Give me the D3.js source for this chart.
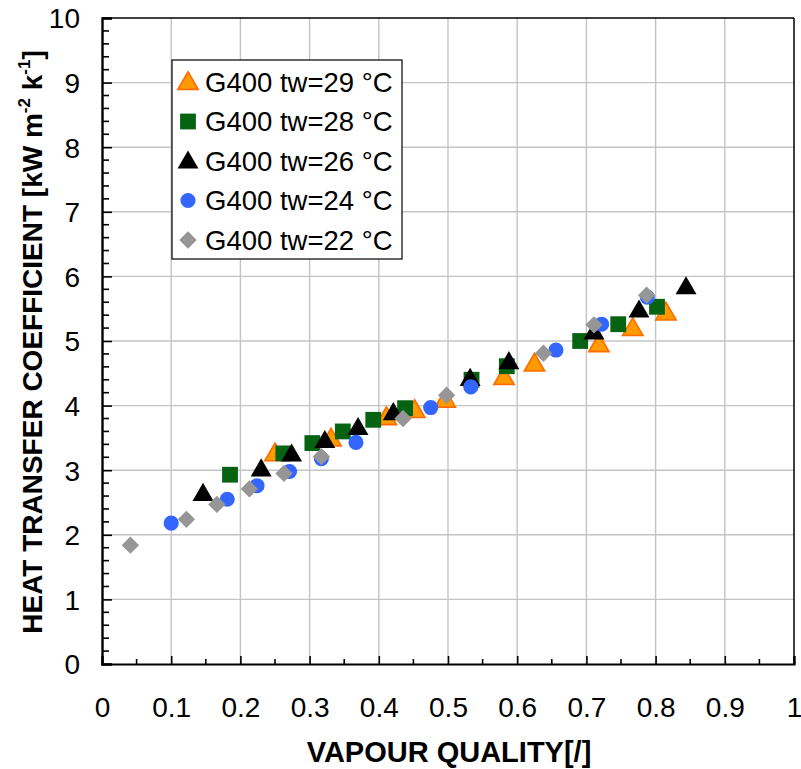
<!DOCTYPE html>
<html>
<head>
<meta charset="utf-8">
<script src="https://cdn.jsdelivr.net/npm/d3@7"></script>
<style>
  html, body { margin: 0; padding: 0; background: #fff; }
  svg { display: block; font-family: Arial, "Liberation Sans", Helvetica, sans-serif; }
</style>
</head>
<body>
<svg id="chart" width="801" height="769"></svg>
<script>
// Heat transfer coefficient vs vapour quality, G400, several wall temperatures
const seriesNames = ["G400 tw=29 °C", "G400 tw=28 °C", "G400 tw=26 °C", "G400 tw=24 °C", "G400 tw=22 °C"];

const tw29x = [0.250, 0.331, 0.411, 0.452, 0.496, 0.581, 0.625, 0.718, 0.767, 0.815];
const tw29y = [3.26, 3.49, 3.82, 3.93, 4.09, 4.44, 4.65, 4.95, 5.20, 5.44];

const tw28x = [0.185, 0.262, 0.304, 0.348, 0.392, 0.438, 0.534, 0.585, 0.691, 0.746, 0.802];
const tw28y = [2.93, 3.26, 3.42, 3.60, 3.78, 3.96, 4.40, 4.61, 5.00, 5.26, 5.53];

const tw26x = [0.146, 0.230, 0.274, 0.322, 0.370, 0.421, 0.532, 0.588, 0.711, 0.776, 0.844];
const tw26y = [2.64, 3.02, 3.25, 3.46, 3.66, 3.89, 4.42, 4.68, 5.14, 5.48, 5.84];

const tw24x = [0.100, 0.181, 0.224, 0.271, 0.317, 0.367, 0.475, 0.533, 0.656, 0.722, 0.788];
const tw24y = [2.18, 2.55, 2.76, 2.98, 3.18, 3.43, 3.97, 4.29, 4.86, 5.26, 5.68];

const tw22x = [0.041, 0.122, 0.166, 0.213, 0.263, 0.317, 0.435, 0.498, 0.638, 0.711, 0.787];
const tw22y = [1.84, 2.24, 2.47, 2.71, 2.95, 3.21, 3.80, 4.16, 4.81, 5.25, 5.71];

const xTicks = [0, 0.1, 0.2, 0.3, 0.4, 0.5, 0.6, 0.7, 0.8, 0.9, 1];
const xTickLabels = ["0", "0.1", "0.2", "0.3", "0.4", "0.5", "0.6", "0.7", "0.8", "0.9", "1"];
const yTicks = [0, 1, 2, 3, 4, 5, 6, 7, 8, 9, 10];

const xTitle = "VAPOUR QUALITY[/]";

// marker styling per series
const markerStyle = [
  { shape: "triangle", fill: "#ff9a00", stroke: "#ff6a00", sw: 1.6, size: 180 },
  { shape: "square",   fill: "#056312", stroke: "#056312", sw: 0,   size: 250 },
  { shape: "triangle", fill: "#000000", stroke: "#000000", sw: 0,   size: 190 },
  { shape: "circle",   fill: "#3366ff", stroke: "#3366ff", sw: 0,   size: 180 },
  { shape: "diamond",  fill: "#969696", stroke: "#969696", sw: 0,   size: 150 }
];

const series = [
  { x: tw29x, y: tw29y },
  { x: tw28x, y: tw28y },
  { x: tw26x, y: tw26y },
  { x: tw24x, y: tw24y },
  { x: tw22x, y: tw22y }
];

const svg = d3.select("#chart");
const plotL = 102, plotR = 794, plotT = 18, plotB = 664;

const x = d3.scaleLinear().domain([0, 1]).range([plotL, plotR]);
const y = d3.scaleLinear().domain([0, 10]).range([plotB, plotT]);

const symbolFor = {
  triangle: d3.symbolTriangle,
  square: d3.symbolSquare,
  circle: d3.symbolCircle,
  diamond: d3.symbolSquare
};
function markerPath(st) {
  return d3.symbol().type(symbolFor[st.shape]).size(st.size)();
}
function markerTransform(st, px, py) {
  if (st.shape === "diamond") return `translate(${px},${py}) rotate(45)`;
  if (st.shape === "triangle") return `translate(${px},${py + 1.5})`;
  return `translate(${px},${py})`;
}

// gridlines
const grid = svg.append("g").attr("stroke", "#c4c4c4").attr("stroke-width", 1.4);
grid.selectAll("line.vx").data(xTicks.slice(1, -1)).join("line")
  .attr("x1", d => x(d)).attr("x2", d => x(d))
  .attr("y1", plotT).attr("y2", plotB);
grid.selectAll("line.hy").data(yTicks.slice(1, -1)).join("line")
  .attr("x1", plotL).attr("x2", plotR)
  .attr("y1", d => y(d)).attr("y2", d => y(d));

// frame: top and right borders
svg.append("line").attr("x1", plotL).attr("x2", plotR).attr("y1", plotT).attr("y2", plotT)
  .attr("stroke", "#000").attr("stroke-width", 1.5);
svg.append("line").attr("x1", plotR).attr("x2", plotR).attr("y1", plotT).attr("y2", plotB)
  .attr("stroke", "#000").attr("stroke-width", 1.5);

// x axis with inward ticks
const xAxis = d3.axisBottom(x).tickValues(xTicks).tickSize(-8).tickPadding(0)
  .tickFormat((d, i) => xTickLabels[i]);
const gx = svg.append("g").attr("transform", `translate(0,${plotB})`).call(xAxis);
gx.select(".domain").attr("stroke-width", 2.2);
gx.selectAll(".tick line").attr("stroke-width", 1.6);
gx.selectAll(".tick text").attr("font-size", 28).attr("fill", "#000")
  .attr("font-family", "Arial, 'Liberation Sans', sans-serif")
  .attr("dy", 0).attr("y", 53);
const xMinor = d3.range(0.05, 1, 0.1);
svg.append("g").selectAll("line").data(xMinor).join("line")
  .attr("x1", d => x(d)).attr("x2", d => x(d))
  .attr("y1", plotB).attr("y2", plotB - 5)
  .attr("stroke", "#000").attr("stroke-width", 1.6);

// y axis with inward ticks
const yAxis = d3.axisLeft(y).tickValues(yTicks).tickSize(-10).tickPadding(0).tickFormat(d3.format("d"));
const gy = svg.append("g").attr("transform", `translate(${plotL},0)`).call(yAxis);
gy.select(".domain").attr("stroke-width", 2.4);
gy.selectAll(".tick line").attr("stroke-width", 1.6);
gy.selectAll(".tick text").attr("font-size", 28).attr("fill", "#000")
  .attr("font-family", "Arial, 'Liberation Sans', sans-serif")
  .attr("x", -22).attr("dy", "0.35em");
const yMinor = d3.range(0, 10, 0.2).filter(v => Math.abs(v - Math.round(v)) > 1e-6);
svg.append("g").selectAll("line").data(yMinor).join("line")
  .attr("x1", plotL).attr("x2", plotL + 7)
  .attr("y1", d => y(d)).attr("y2", d => y(d))
  .attr("stroke", "#000").attr("stroke-width", 1.6);
gx.select(".domain").raise();

// data markers
series.forEach((s, i) => {
  const st = markerStyle[i];
  const pts = s.x.map((v, j) => [v, s.y[j]]);
  svg.append("g").selectAll("path").data(pts).join("path")
    .attr("d", markerPath(st))
    .attr("transform", d => markerTransform(st, x(d[0]), y(d[1])))
    .attr("fill", st.fill)
    .attr("stroke", st.sw ? st.stroke : "none")
    .attr("stroke-width", st.sw);
});

// legend
const lg = svg.append("g");
lg.append("rect").attr("x", 172).attr("y", 60).attr("width", 230).attr("height", 199)
  .attr("fill", "#fff").attr("stroke", "#000").attr("stroke-width", 1.2);
const legendY = d3.scalePoint().domain(seriesNames).range([82, 240]);
seriesNames.forEach((name, i) => {
  const st = markerStyle[i];
  const cy = legendY(name);
  lg.append("path").attr("d", markerPath(st))
    .attr("transform", markerTransform(st, 188, cy))
    .attr("fill", st.fill)
    .attr("stroke", st.sw ? st.stroke : "none")
    .attr("stroke-width", st.sw);
  lg.append("text").attr("x", 205).attr("y", cy).attr("dy", "0.36em")
    .attr("font-size", 27.5).attr("fill", "#000").text(name);
});

// axis titles
svg.append("text").attr("x", 449).attr("y", 762).attr("text-anchor", "middle")
  .attr("font-size", 29).attr("font-weight", "bold").attr("fill", "#000").text(xTitle);

const yt = svg.append("text").attr("transform", "translate(42,342) rotate(-90)")
  .attr("text-anchor", "middle").attr("font-size", 28).attr("font-weight", "bold").attr("fill", "#000");
yt.append("tspan").text("HEAT TRANSFER COEFFICIENT [kW m");
yt.append("tspan").attr("font-size", 17).attr("dy", -12).text("-2");
yt.append("tspan").attr("dy", 12).text(" k");
yt.append("tspan").attr("font-size", 17).attr("dy", -12).text("-1");
yt.append("tspan").attr("dy", 12).text("]");
</script>
</body>
</html>
